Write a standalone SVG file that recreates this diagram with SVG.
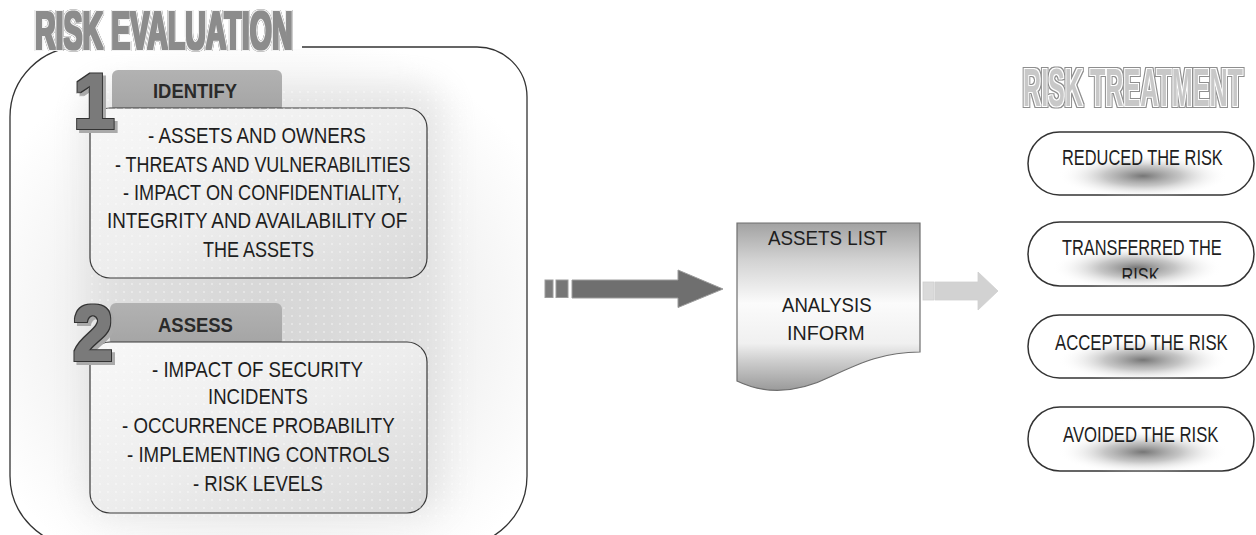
<svg xmlns="http://www.w3.org/2000/svg" width="1256" height="535" viewBox="0 0 1256 535">
<style>
  text { font-family: "Liberation Sans", Arial, sans-serif; }
  .body { font-size: 22.5px; fill: #1e1e1e; }
  .head { font-size: 21px; font-weight: bold; fill: #2a2a2a; }
  .doc { font-size: 21px; fill: #1e1e1e; }
  .pilltxt { font-size: 21.5px; fill: #1e1e1e; }
  .title { font-weight: bold; }
  .digit { font-size: 78px; font-weight: bold; fill: #7a7a7a; }
  .box { stroke: #3a3a3a; stroke-width: 1.2; fill: url(#boxGrad); }
  .tab { fill: url(#tabGrad); }
  .pill { fill: #ffffff; stroke: #333; stroke-width: 1.5; }
  .glow { fill: url(#glowGrad); }
</style>
<defs>
  <radialGradient id="contGrad" cx="0.5" cy="0.55" r="0.6">
    <stop offset="0" stop-color="#dcdcdc"/>
    <stop offset="0.5" stop-color="#eeeeee"/>
    <stop offset="1" stop-color="#ffffff"/>
  </radialGradient>
  <linearGradient id="boxGrad" x1="0" y1="0" x2="1" y2="1">
    <stop offset="0" stop-color="#f8f8f8"/>
    <stop offset="0.5" stop-color="#ededed"/>
    <stop offset="1" stop-color="#d8d8d8"/>
  </linearGradient>
  <linearGradient id="tabGrad" x1="0" y1="0" x2="0" y2="1">
    <stop offset="0" stop-color="#b2b2b2"/>
    <stop offset="1" stop-color="#a4a4a4"/>
  </linearGradient>
  <linearGradient id="docGrad" x1="0" y1="0" x2="0" y2="1">
    <stop offset="0" stop-color="#a2a2a2"/>
    <stop offset="0.22" stop-color="#d2d2d2"/>
    <stop offset="0.48" stop-color="#fbfbfb"/>
    <stop offset="0.72" stop-color="#f0f0f0"/>
    <stop offset="0.82" stop-color="#cfcfcf"/>
    <stop offset="1" stop-color="#9a9a9a"/>
  </linearGradient>
  <radialGradient id="glowGrad">
    <stop offset="0" stop-color="#6e6e6e" stop-opacity="0.95"/>
    <stop offset="0.45" stop-color="#a0a0a0" stop-opacity="0.6"/>
    <stop offset="1" stop-color="#ffffff" stop-opacity="0"/>
  </radialGradient>
  <pattern id="dots" width="8" height="8" patternUnits="userSpaceOnUse">
    <circle cx="4" cy="4" r="0.8" fill="#ffffff" fill-opacity="0.75"/>
  </pattern>
  <filter id="soft" x="-20%" y="-20%" width="140%" height="140%">
    <feGaussianBlur stdDeviation="16"/>
  </filter>
  <filter id="fDark" x="-5%" y="-30%" width="110%" height="160%" color-interpolation-filters="sRGB">
    <feMorphology in="SourceAlpha" operator="dilate" radius="2.4" result="a3"/>
    <feMorphology in="SourceAlpha" operator="dilate" radius="1.5" result="a2"/>
    <feMorphology in="SourceAlpha" operator="dilate" radius="0.6" result="a1"/>
    <feFlood flood-color="#3a3a3a"/><feComposite in2="a3" operator="in" result="c3"/>
    <feFlood flood-color="#f2f2f2"/><feComposite in2="a2" operator="in" result="c2"/>
    <feFlood flood-color="#8c8c8c"/><feComposite in2="a1" operator="in" result="c1"/>
    <feMerge><feMergeNode in="c3"/><feMergeNode in="c2"/><feMergeNode in="c1"/></feMerge>
  </filter>
  <filter id="fLight" x="-5%" y="-30%" width="110%" height="160%" color-interpolation-filters="sRGB">
    <feMorphology in="SourceAlpha" operator="dilate" radius="2" result="a3"/>
    <feMorphology in="SourceAlpha" operator="dilate" radius="1.2" result="a2"/>
    <feMorphology in="SourceAlpha" operator="dilate" radius="0.4" result="a1"/>
    <feFlood flood-color="#8e8e8e"/><feComposite in2="a3" operator="in" result="c3"/>
    <feFlood flood-color="#ffffff"/><feComposite in2="a2" operator="in" result="c2"/>
    <feFlood flood-color="#c8c8c8"/><feComposite in2="a1" operator="in" result="c1"/>
    <feMerge><feMergeNode in="c3"/><feMergeNode in="c2"/><feMergeNode in="c1"/></feMerge>
  </filter>
  <filter id="fDigit" x="-30%" y="-20%" width="170%" height="150%" color-interpolation-filters="sRGB">
    <feMorphology in="SourceAlpha" operator="dilate" radius="2" result="a2"/>
    <feMorphology in="SourceAlpha" operator="dilate" radius="0.6" result="a1"/>
    <feOffset in="a2" dx="3" dy="3" result="sh"/>
    <feFlood flood-color="#aaaaaa"/><feComposite in2="sh" operator="in" result="cs"/>
    <feFlood flood-color="#333333"/><feComposite in2="a2" operator="in" result="co"/>
    <feFlood flood-color="#7a7a7a"/><feComposite in2="a1" operator="in" result="ci"/>
    <feMerge><feMergeNode in="cs"/><feMergeNode in="co"/><feMergeNode in="ci"/></feMerge>
  </filter>
  <clipPath id="pill2clip"><rect x="1028" y="222" width="226" height="56.5"/></clipPath>
</defs>

<rect width="1256" height="535" fill="#ffffff"/>

<g id="risk-evaluation">
  <path d="M80,47 H477 A50,50 0 0 1 527,97 V476 A70,70 0 0 1 457,546 H80 A70,70 0 0 1 10,476 V117 A70,70 0 0 1 80,47 Z" fill="url(#contGrad)" stroke="#333" stroke-width="1.3"/>
  <rect x="85" y="85" width="360" height="430" rx="30" fill="#cfcfcf" filter="url(#soft)" opacity="0.45"/>
  <rect x="88" y="85" width="380" height="435" fill="url(#dots)"/>
  <rect x="30" y="0" width="272" height="49" fill="#ffffff"/>
  <g filter="url(#fDark)">
    <text class="title" x="35" y="49" font-size="54" fill="#8c8c8c" transform="matrix(0.529,0,0,1,16.48,0)">RISK EVALUATION</text>
  </g>
</g>

<g id="identify">
  <rect class="tab" x="112" y="70" width="170" height="42" rx="6"/>
  <text class="head" x="153" y="98" transform="matrix(0.878,0,0,1,18.67,0)">IDENTIFY</text>
  <rect class="box" x="90" y="108" width="337" height="170" rx="20"/>
  <rect x="90" y="108" width="337" height="170" rx="20" fill="url(#dots)"/>
  <text class="body" x="148" y="143.3" transform="matrix(0.834,0,0,1,24.57,0)">- ASSETS AND OWNERS</text>
  <text class="body" x="115" y="171.7" transform="matrix(0.795,0,0,1,23.58,0)">- THREATS AND VULNERABILITIES</text>
  <text class="body" x="123" y="200" transform="matrix(0.806,0,0,1,23.86,0)">- IMPACT ON CONFIDENTIALITY,</text>
  <text class="body" x="107" y="228.5" transform="matrix(0.838,0,0,1,17.33,0)">INTEGRITY AND AVAILABILITY OF</text>
  <text class="body" x="203" y="257" transform="matrix(0.8,0,0,1,40.6,0)">THE ASSETS</text>
  <text class="digit" x="0" y="0" transform="translate(94,128) scale(0.95,1)" text-anchor="middle" filter="url(#fDigit)">1</text>
</g>

<g id="assess">
  <rect class="tab" x="110" y="303" width="172" height="43" rx="6"/>
  <text class="head" x="158" y="332" transform="matrix(0.88,0,0,1,18.96,0)">ASSESS</text>
  <rect class="box" x="90" y="342" width="337" height="171" rx="20"/>
  <rect x="90" y="342" width="337" height="171" rx="20" fill="url(#dots)"/>
  <text class="body" x="152" y="377" transform="matrix(0.831,0,0,1,25.69,0)">- IMPACT OF SECURITY</text>
  <text class="body" x="208" y="404.5" transform="matrix(0.825,0,0,1,36.4,0)">INCIDENTS</text>
  <text class="body" x="122" y="433" transform="matrix(0.83,0,0,1,20.74,0)">- OCCURRENCE PROBABILITY</text>
  <text class="body" x="127" y="462" transform="matrix(0.831,0,0,1,21.46,0)">- IMPLEMENTING CONTROLS</text>
  <text class="body" x="193" y="491" transform="matrix(0.825,0,0,1,33.78,0)">- RISK LEVELS</text>
  <text class="digit" x="0" y="0" transform="translate(93,360) scale(0.92,1)" text-anchor="middle" filter="url(#fDigit)">2</text>
</g>

<g id="connectors">
  <g id="arrow-in" stroke="#9c9c9c" stroke-width="1">
    <rect x="545" y="280" width="8" height="17.5" fill="#7c7c7c"/>
    <rect x="556" y="280" width="12" height="17.5" fill="#767676"/>
    <path d="M572,280 H678 V270 L723,289 L678,307.5 V298 H572 Z" fill="#6f6f6f"/>
  </g>
  <g id="arrow-out" stroke="#cfcfcf" stroke-width="0.8">
    <rect x="923" y="282" width="11" height="18" fill="#dadada"/>
    <path d="M935,282 H978 V272 L998,291 L978,310 V300 H935 Z" fill="#d2d2d2"/>
  </g>
</g>

<g id="assets-list">
  <path d="M737,223 H920 V352 C885,352 862,362 832,376 C800,392 768,396 737,381 Z" fill="url(#docGrad)" stroke="#6e6e6e" stroke-width="1.2"/>
  <text class="doc" x="768" y="245" transform="matrix(0.895,0,0,1,80.64,0)">ASSETS LIST</text>
  <text class="doc" x="782" y="312" transform="matrix(0.886,0,0,1,89.15,0)">ANALYSIS</text>
  <text class="doc" x="787" y="340" transform="matrix(0.94,0,0,1,47.22,0)">INFORM</text>
</g>

<g id="risk-treatment-title" filter="url(#fLight)">
  <text class="title" x="1023" y="106" font-size="54" fill="#c8c8c8" transform="matrix(0.465,0,0,1,547.3,0)">RISK TREATMENT</text>
</g>

<g id="reduced">
  <rect class="pill" x="1028" y="132" width="226" height="63" rx="31.5"/>
  <ellipse class="glow" cx="1143" cy="176" rx="85" ry="22"/>
  <text class="pilltxt" x="1062" y="165" transform="matrix(0.762,0,0,1,252.76,0)">REDUCED THE RISK</text>
</g>

<g id="transferred">
  <rect class="pill" x="1028" y="222" width="226" height="64" rx="32"/>
  <ellipse class="glow" cx="1137" cy="268" rx="85" ry="22"/>
  <g clip-path="url(#pill2clip)">
    <text class="pilltxt" x="1062" y="255" transform="matrix(0.761,0,0,1,253.82,0)">TRANSFERRED THE</text>
    <text class="pilltxt" x="1121.5" y="283.5" transform="matrix(0.76,0,0,1,269.16,0)">RISK</text>
  </g>
</g>

<g id="accepted">
  <rect class="pill" x="1028" y="315" width="226" height="63" rx="31.5"/>
  <ellipse class="glow" cx="1143" cy="360" rx="85" ry="22"/>
  <text class="pilltxt" x="1055" y="350" transform="matrix(0.779,0,0,1,233.16,0)">ACCEPTED THE RISK</text>
</g>

<g id="avoided">
  <rect class="pill" x="1028" y="407" width="226" height="64" rx="32"/>
  <ellipse class="glow" cx="1143" cy="452" rx="85" ry="22"/>
  <text class="pilltxt" x="1063" y="442" transform="matrix(0.778,0,0,1,235.99,0)">AVOIDED THE RISK</text>
</g>
</svg>
